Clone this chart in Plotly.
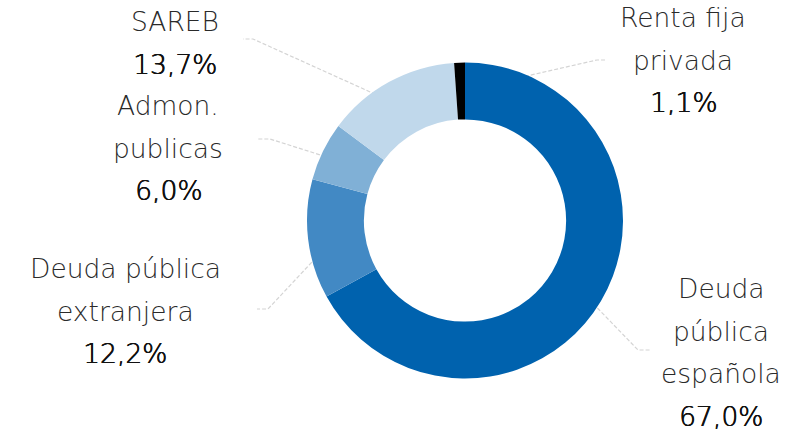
import math
import plotly.graph_objects as go

# ---- data ----
categories = ["Deuda pública española", "Deuda pública extranjera",
              "Admon. publicas", "SAREB", "Renta fija privada"]
values = [67.0, 12.2, 6.0, 13.7, 1.1]
label_lines = [["Deuda", "pública", "española"],
               ["Deuda pública", "extranjera"],
               ["Admon.", "publicas"],
               ["SAREB"],
               ["Renta fija", "privada"]]
value_labels = ["67,0%", "12,2%", "6,0%", "13,7%", "1,1%"]
colors = ["#0062AE", "#4289C4", "#80B0D6", "#C0D8EB", "#000000"]

# ---- layout (pixels) ----
W, H = 790, 433
CX, CY, R_OUT = 465, 220.5, 158
HOLE = 0.64
R_MID = R_OUT * (1 + HOLE) / 2
# label text: centre x, first baseline y
label_pos = [(721, 300), (125, 280), (168, 117), (175, 33), (683, 29)]
# leader elbow x, elbow y, end x
elbows = [(638, 350, 650), (268, 309, 257), (270, 139, 258), (253, 39, 243), (597, 60, 607)]
LINE_STEP = 42.5
FS = 26.5
FONT = "DejaVu Sans"

fig = go.Figure()
fig.add_trace(go.Pie(
    labels=categories, values=values, hole=HOLE, sort=False,
    direction="clockwise", rotation=0, textinfo="none", hoverinfo="label+percent",
    marker=dict(colors=colors, line=dict(width=0)), showlegend=False,
    domain=dict(x=[(CX - R_OUT) / W, (CX + R_OUT) / W],
                y=[1 - (CY + R_OUT) / H, 1 - (CY - R_OUT) / H]),
))

total = sum(values)
cum = 0.0
for i, v in enumerate(values):
    mid = (cum + v / 2) / total * 2 * math.pi
    cum += v
    sx = CX + R_MID * math.sin(mid)
    sy = CY - R_MID * math.cos(mid)
    ex, ey, endx = elbows[i]
    fig.add_trace(go.Scatter(
        x=[sx, ex, endx], y=[sy, ey, ey], mode="lines",
        line=dict(color="#d4d4d4", width=1.2, dash="4px,2px"),
        hoverinfo="skip", showlegend=False))
    lx, ly = label_pos[i]
    lines = label_lines[i] + [value_labels[i]]
    for j, t in enumerate(lines):
        is_val = j == len(lines) - 1
        font = dict(family=FONT, size=FS, weight=200,
                    color="#111111" if is_val else "#2a2a2a")
        if is_val:
            font["shadow"] = "0.6px 0 0 #111111, 0 0.3px 0 #111111"
        fig.add_annotation(
            x=lx, y=ly + j * LINE_STEP - 0.42 * FS, xref="x", yref="y",
            text=t, showarrow=False, xanchor="center", yanchor="middle",
            font=font)

fig.update_layout(
    width=W, height=H, margin=dict(l=0, r=0, t=0, b=0),
    paper_bgcolor="white", plot_bgcolor="rgba(0,0,0,0)",
    xaxis=dict(range=[0, W], visible=False, domain=[0, 1], fixedrange=True),
    yaxis=dict(range=[H, 0], visible=False, domain=[0, 1], fixedrange=True),
)
fig.write_html("out.html", config={"displayModeBar": False},
               post_script="document.body.style.margin='0';document.body.style.overflow='hidden';")
